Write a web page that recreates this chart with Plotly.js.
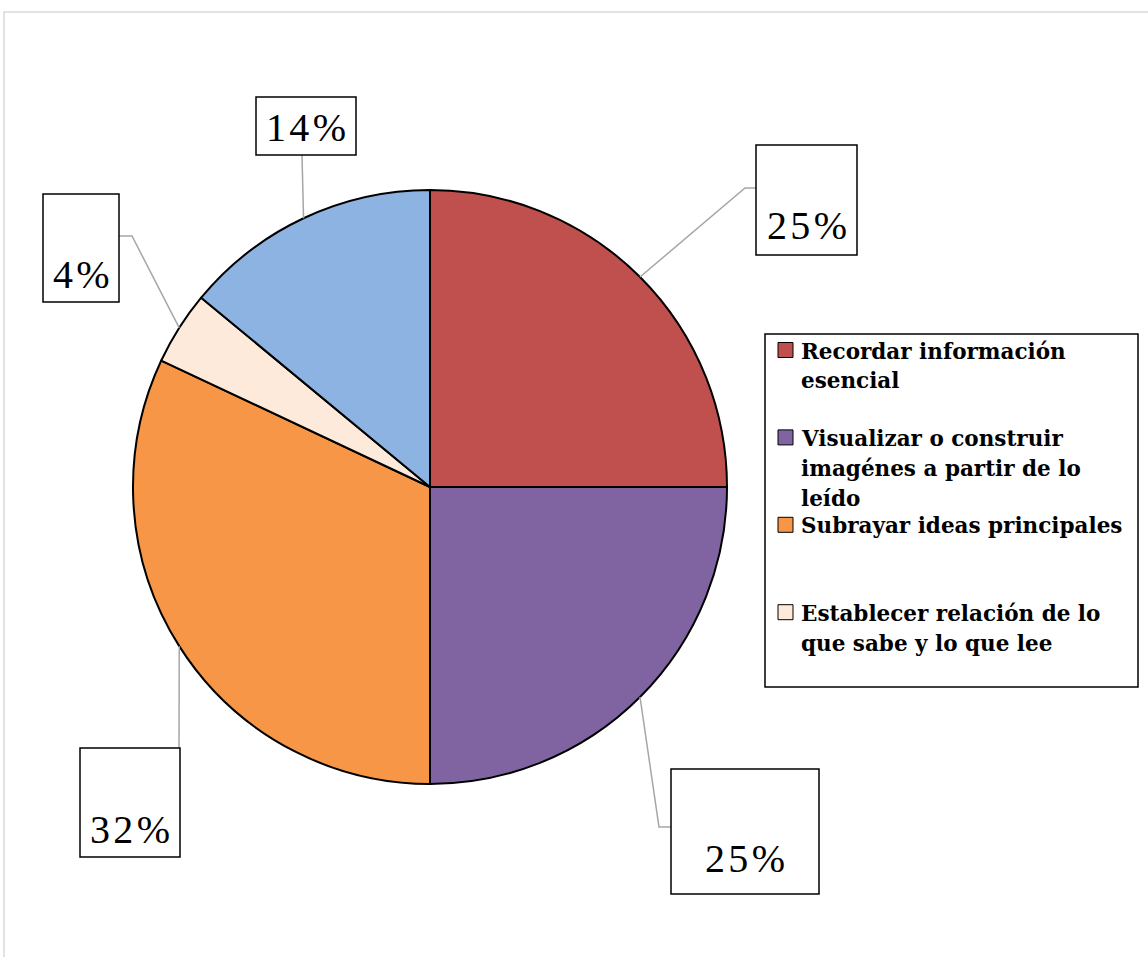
<!DOCTYPE html>
<html>
<head>
<meta charset="utf-8">
<script src="https://cdn.plot.ly/plotly-3.0.1.min.js"></script>
<style>html,body{margin:0;padding:0;background:#fff;}#chart{width:1148px;height:957px;}</style>
</head>
<body>
<div id="chart"></div>
<script>
// ---- data ----
const labels = [
  "Recordar información esencial",
  "Visualizar o construir imagénes a partir de lo leído",
  "Subrayar ideas principales",
  "Establecer relación de lo que sabe y lo que lee",
  "Otras estrategias"
];
const values = [25, 25, 32, 4, 14];
const pctText = ["25%", "25%", "32%", "4%", "14%"];
const colors = ["#C0504D", "#8064A2", "#F79646", "#FDEADA", "#8DB3E2"];
const legendLines = [
  ["Recordar información", "esencial"],
  ["Visualizar o construir", "imagénes a partir de lo", "leído"],
  ["Subrayar ideas principales"],
  ["Establecer relación de lo", "que sabe y lo que lee"]
];

// ---- layout geometry (pixels) ----
const W = 1148, H = 957;
const cx = 430, cy = 487, R = 297;
const px = x => x / W;
const py = y => 1 - y / H;

const boxes = [
  {x0:756, y0:145, x1:857, y1:255, elbow:[745,188], attach:[756,188], base:240},
  {x0:671, y0:769, x1:819, y1:894, elbow:[659,827], attach:[671,827], base:872},
  {x0:80,  y0:748, x1:180, y1:857, elbow:null,      attach:[179,748], base:843},
  {x0:43,  y0:194, x1:119, y1:302, elbow:[132,236], attach:[119,236], base:288},
  {x0:256, y0:97,  x1:356, y1:155, elbow:null,      attach:[302,155], base:142}
];

const shapes = [];
const annotations = [];

// outer chart border (partially visible)
shapes.push({type:'rect', xref:'paper', yref:'paper', x0:px(4), y0:-0.05, x1:1.05, y1:py(12),
  line:{color:'#D9D9D9', width:1.5}, fillcolor:'rgba(0,0,0,0)', layer:'below'});

// data labels with leader lines
const total = values.reduce((a,b)=>a+b,0);
const spaced = s => s.split('').join('\u200A');
let cum = 0;
values.forEach((v,i)=>{
  const mid = (cum + v/2) / total * 2*Math.PI;
  cum += v;
  const ex = cx + R*Math.sin(mid), ey = cy - R*Math.cos(mid);
  const b = boxes[i];
  let path = 'M' + px(ex) + ',' + py(ey);
  if (b.elbow) path += ' L' + px(b.elbow[0]) + ',' + py(b.elbow[1]);
  path += ' L' + px(b.attach[0]) + ',' + py(b.attach[1]);
  shapes.push({type:'path', xref:'paper', yref:'paper', path:path, line:{color:'#A6A6A6', width:1.5}});
  shapes.push({type:'rect', xref:'paper', yref:'paper', x0:px(b.x0), x1:px(b.x1), y0:py(b.y0), y1:py(b.y1),
    line:{color:'#000', width:1.5}, fillcolor:'#fff'});
  annotations.push({xref:'paper', yref:'paper', x:px((b.x0+b.x1)/2), y:py(b.base - 14),
    xanchor:'center', yanchor:'middle', showarrow:false, text:spaced(pctText[i]),
    font:{family:'Liberation Serif, serif', size:40, color:'#000'}});
});

// custom legend
shapes.push({type:'rect', xref:'paper', yref:'paper', x0:px(765), x1:px(1138), y0:py(334), y1:py(687),
  line:{color:'#000', width:1.5}, fillcolor:'#fff'});
const legTop = 350, legStep = 87.4, lineStep = 30;
legendLines.forEach((lines,i)=>{
  const yc = legTop + i*legStep;
  shapes.push({type:'rect', xref:'paper', yref:'paper', x0:px(778), x1:px(793), y0:py(yc-7.5), y1:py(yc+7.5),
    line:{color:'#000', width:1}, fillcolor:colors[i]});
  lines.forEach((t,j)=>{
    const baseY = yc + 8 + j*lineStep;
    annotations.push({xref:'paper', yref:'paper', x:px(799), y:py(baseY - 7),
      xanchor:'left', yanchor:'middle', showarrow:false, text:'<b>'+t+'</b>',
      font:{family:'DejaVu Serif, serif', size:21.5, color:'#000'}});
  });
});

const trace = {
  type:'pie', labels:labels, values:values, sort:false, direction:'clockwise', rotation:0,
  marker:{colors:colors, line:{color:'#000', width:2}},
  textinfo:'none', hoverinfo:'label+percent',
  domain:{x:[px(cx-R), px(cx+R)], y:[py(cy+R), py(cy-R)]},
  showlegend:false
};

Plotly.newPlot('chart', [trace], {
  width:W, height:H, margin:{l:0,r:0,t:0,b:0},
  paper_bgcolor:'#fff', showlegend:false,
  shapes:shapes, annotations:annotations
}, {displayModeBar:false, staticPlot:true});
</script>
</body>
</html>
